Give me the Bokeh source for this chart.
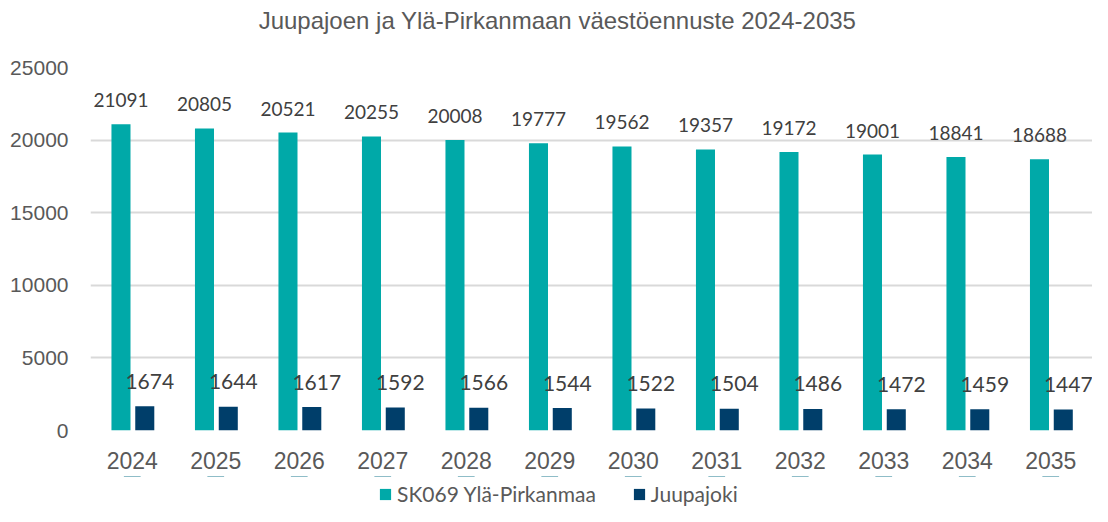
from bokeh.plotting import figure
from bokeh.layouts import column
from bokeh.models import ColumnDataSource, LabelSet, Label, Legend, LegendItem, FactorRange
from bokeh.core.properties import value
from bokeh.transform import dodge
from bokeh.embed import file_html
from bokeh.resources import INLINE

years = ["2024", "2025", "2026", "2027", "2028", "2029", "2030", "2031", "2032", "2033", "2034", "2035"]
yla_pirkanmaa = [21091, 20805, 20521, 20255, 20008, 19777, 19562, 19357, 19172, 19001, 18841, 18688]
juupajoki = [1674, 1644, 1617, 1592, 1566, 1544, 1522, 1504, 1486, 1472, 1459, 1447]
series_names = ["SK069 Ylä-Pirkanmaa", "Juupajoki"]
title_text = "Juupajoen ja Ylä-Pirkanmaan väestöennuste 2024-2035"

TEAL = "#00A9A8"
NAVY = "#003E6A"

src = ColumnDataSource(dict(
    year=years,
    a=yla_pirkanmaa,
    b=juupajoki,
    a_lbl=[str(v) for v in yla_pirkanmaa],
    b_lbl=[str(v) for v in juupajoki],
))

# title strip
tf = figure(width=1092, height=40, output_backend="svg", toolbar_location=None,
            x_axis_location=None, y_axis_location=None, min_border=0,
            x_range=(0, 1), y_range=(0, 1))
tf.grid.visible = False
tf.outline_line_color = None
tf.add_layout(Label(x=467, y=20, x_units="screen", y_units="screen",
                    text=title_text, text_align="center", text_baseline="middle",
                    text_font="Liberation Sans", text_font_size="24px", text_color="#595959"))

# main chart
p = figure(
    x_range=FactorRange(*years, range_padding=0),
    y_range=(0, 25000),
    width=1092, height=436,
    output_backend="svg", toolbar_location=None,
    min_border_left=90, min_border_right=0, min_border_top=27, min_border_bottom=46,
)

p.vbar(x=dodge("year", -0.135, range=p.x_range), top="a", width=0.228, source=src,
       fill_color=TEAL, line_color=None)
p.vbar(x=dodge("year", 0.15, range=p.x_range), top="b", width=0.228, source=src,
       fill_color=NAVY, line_color=None)

p.add_layout(LabelSet(x=dodge("year", -0.135, range=p.x_range), y="a", text="a_lbl", source=src,
                      y_offset=24, text_align="center", text_baseline="middle",
                      text_font=value("Lato"), text_font_size="19px", text_color="#404040"))
p.add_layout(LabelSet(x=dodge("year", 0.15, range=p.x_range), y="b", text="b_lbl", source=src,
                      x_offset=5, y_offset=25, text_align="center", text_baseline="middle",
                      text_font=value("Lato"), text_font_size="21px", text_color="#404040"))

p.yaxis.ticker = [0, 5000, 10000, 15000, 20000, 25000]
for ax in (p.xaxis, p.yaxis):
    ax.axis_line_color = None
    ax.major_tick_line_color = None
    ax.minor_tick_line_color = None
    ax.major_label_text_font = "Liberation Sans"
    ax.major_label_text_color = "#595959"
p.yaxis.major_label_text_font_size = "21px"
p.xaxis.major_label_text_font_size = "23px"
p.yaxis.major_label_standoff = 16
p.xaxis.major_label_standoff = 15
p.xgrid.grid_line_color = None
p.ygrid.grid_line_color = "#D9D9D9"
p.ygrid.grid_line_width = 2
p.outline_line_color = None

# legend strip below the chart (its bars have zero height)
lg = figure(width=1092, height=30, output_backend="svg", toolbar_location=None,
            x_axis_location=None, y_axis_location=None, min_border=0,
            x_range=FactorRange(*years, range_padding=0), y_range=(-2, -1))
lg.grid.visible = False
lg.outline_line_color = None
la = lg.vbar(x="year", top="a", bottom="a", width=0.2, source=src, fill_color=TEAL, line_color=None)
lb = lg.vbar(x="year", top="b", bottom="b", width=0.2, source=src, fill_color=NAVY, line_color=None)
legend = Legend(items=[LegendItem(label=series_names[0], renderers=[la]),
                       LegendItem(label=series_names[1], renderers=[lb])],
                location=(288, 0), orientation="horizontal",
                glyph_width=14, glyph_height=14, label_height=20, label_standoff=5,
                spacing=36, padding=0, margin=0, border_line_color=None,
                background_fill_alpha=0,
                label_text_font="Lato", label_text_font_size="21px",
                label_text_color="#595959")
lg.add_layout(legend, "center")

layout = column(tf, p, lg, spacing=0)
open("out.html", "w").write(file_html(layout, INLINE))
